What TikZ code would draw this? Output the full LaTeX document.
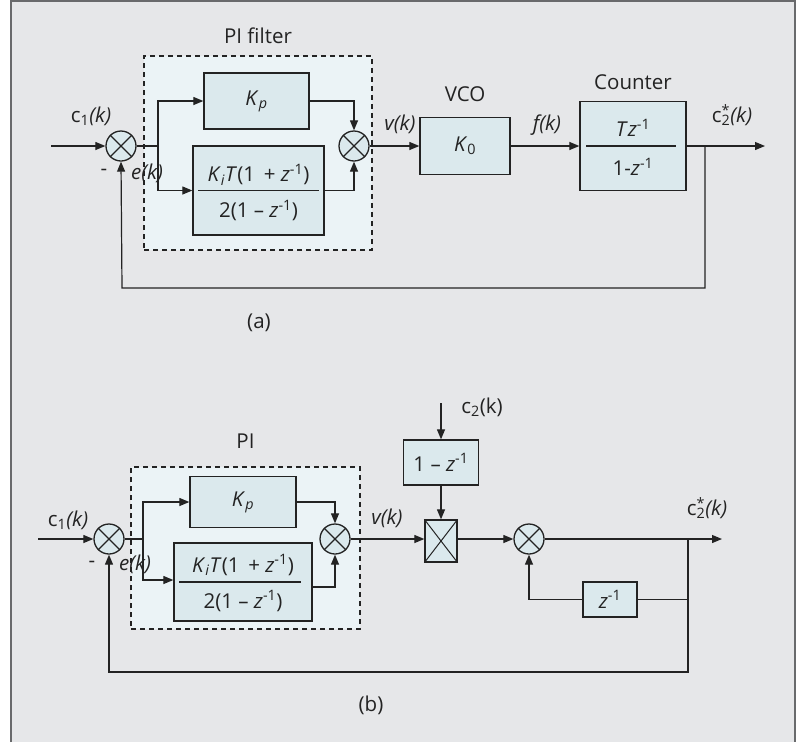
\documentclass[tikz,border=0pt]{standalone}
\usepackage{fontspec}
\setmainfont{Open Sans}
\usepackage{tikz}
\usetikzlibrary{positioning,arrows.meta}

\definecolor{bgray}{RGB}{230,231,233}
\definecolor{framec}{RGB}{105,106,108}
\definecolor{linec}{RGB}{35,35,35}
\definecolor{pifill}{RGB}{235,243,246}
\definecolor{blkfill}{RGB}{219,233,237}

\newcommand{\zinv}{\textit{z}\textsuperscript{-1}}
\newcommand{\cstar}{c\rlap{\textsuperscript{*}}\textsubscript{2}}

\tikzset{
  blk/.style={draw, fill=blkfill, line width=1.3pt, inner sep=0pt},
  sum/.style={draw, fill=blkfill, circle, minimum size=30pt, inner sep=0pt, line width=1.3pt},
  pibox/.style={draw, dash pattern=on 5pt off 4pt, fill=pifill, line width=1.1pt, inner sep=0pt}
}

\begin{document}
\begin{tikzpicture}[x=1pt,y=-1pt,color=linec,line width=1.2pt,
  font=\fontsize{20.5}{24}\selectfont,
  >={Triangle[length=10pt,width=8pt]}]
\useasboundingbox (0,0) rectangle (808,742);
\fill[bgray] (11,1) rectangle (795,742);
\draw[framec, line width=1.5pt] (11,742) -- (11,1) -- (795,1) -- (795,742);

% (a) PI filter, VCO and counter
\node[pibox, minimum width=228pt, minimum height=194pt] (piA) at (258,153) {};
\node[above=8pt of piA] (piAlbl) {PI filter};
\node[sum] (sumA1) at (121,146) {};
\node[sum] (sumA2) at (354,146) {};
\node[blk, minimum width=105pt, minimum height=56pt] (kpA) at (256.5,101) {\textit{K}\textsubscript{\textit{p}}};
\node[blk, minimum width=131pt, minimum height=89pt] (kiA) at (258.5,190.5) {};
\node (kiAtop) at ([yshift=16pt]kiA.center) {\textit{K}\textsubscript{\textit{i}}\textit{T}(1 \,+ \zinv)};
\node (kiAbot) at ([yshift=-20pt]kiA.center) {2(1 – \zinv)};
\draw ([xshift=6pt]kiA.west) -- ([xshift=-6pt]kiA.east);
\node[blk, minimum width=90pt, minimum height=57pt] (vcoA) at (465,146) {\textit{K}\textsubscript{0}};
\node[above=11pt of vcoA] (vcoAlbl) {VCO};
\node[blk, minimum width=106pt, minimum height=89pt] (cntA) at (633,146) {};
\node[above=7pt of cntA] (cntAlbl) {Counter};
\node (cntAtop) at ([yshift=18pt]cntA.center) {\textit{T}\zinv};
\node (cntAbot) at ([yshift=-21pt]cntA.center) {1-\zinv};
\draw ([xshift=7pt]cntA.west) -- ([xshift=-11pt]cntA.east);

\coordinate (inA) at (51,146);
\coordinate (brA) at (158,146);
\coordinate (fbA) at (705,146);
\coordinate (outA) at (765,146);
\coordinate (botA) at (122,288);
\draw[->] (inA) -- (sumA1.west);
\draw (sumA1.east) -- (brA);
\draw[->] (brA) |- (kpA.west);
\draw[->] (brA) |- (kiA.west);
\draw[->] (kpA.east) -| (sumA2.north);
\draw[->] (kiA.east) -| (sumA2.south);
\draw[->] (sumA2.east) -- (vcoA.west);
\draw[->] (vcoA.east) -- (cntA.west);
\draw[->] (cntA.east) -- (outA);
\draw[->] (fbA) |- (botA) -- (sumA1.south);

\node (c1A) at (91,116) {c\textsubscript{1}\textit{(k)}};
\node (mnA) at (104,172) {-};
\node (eA) at (147,173) {\textit{e(k)}};
\node (vA) at (400,124) {\textit{v(k)}};
\node (fA) at (547,125) {\textit{f(k)}};
\node (c2A) at (732,115) {\cstar\textit{(k)}};
\node (capA) at (259,323) {(a)};

% (b) PI and difference counter
\node[pibox, minimum width=229pt, minimum height=162pt] (piB) at (245.5,548) {};
\node[above=14pt of piB] (piBlbl) {PI};
\node[sum] (sumB1) at (109,539) {};
\node[sum] (sumB2) at (335,539) {};
\node[blk, minimum width=106pt, minimum height=51pt] (kpB) at (243,502) {\textit{K}\textsubscript{\textit{p}}};
\node[blk, minimum width=138pt, minimum height=78pt] (kiB) at (243,582) {};
\node (kiBtop) at ([yshift=17pt]kiB.center) {\textit{K}\textsubscript{\textit{i}}\textit{T}(1 \,+ \zinv)};
\node (kiBbot) at ([yshift=-19pt]kiB.center) {2(1 – \zinv)};
\draw ([xshift=6pt]kiB.west) -- ([xshift=-12pt]kiB.east);
\node[blk, minimum width=32pt, minimum height=42pt] (mulB) at (441,541) {};
\node[blk, minimum width=75pt, minimum height=45pt] (difB) at (441,462.5) {1 – \zinv};
\node[sum] (sumB3) at (529,539) {};
\node[blk, minimum width=54pt, minimum height=35pt] (dlyB) at (610,599.5) {\zinv};
\foreach \s in {sumA1,sumA2,sumB1,sumB2,sumB3}
  {\draw (\s.north west) -- (\s.south east) (\s.north east) -- (\s.south west);}
\draw[line width=1pt] (mulB.north west) -- (mulB.south east) (mulB.north east) -- (mulB.south west);

\coordinate (inB) at (38,539);
\coordinate (brB) at (143,539);
\coordinate (c2inB) at (441,403);
\coordinate (fbB) at (688,539);
\coordinate (outB) at (722,539);
\coordinate (botB) at (109,672);
\draw[->] (inB) -- (sumB1.west);
\draw (sumB1.east) -- (brB);
\draw[->] (brB) |- (kpB.west);
\draw[->] (brB) |- ([yshift=2pt]kiB.west);
\draw[->] (kpB.east) -| (sumB2.north);
\draw[->] ([yshift=-5pt]kiB.east) -| (sumB2.south);
\draw[->] (sumB2.east) -- (sumB2.east -| mulB.west);
\draw[->] (c2inB) -- (difB.north);
\draw[->] (difB.south) -- (mulB.north);
\draw[->] (sumB3.west -| mulB.east) -- (sumB3.west);
\draw[->] (sumB3.east) -- (outB);
\draw (fbB |- dlyB.east) -- (dlyB.east);
\draw[->] (dlyB.west) -| (sumB3.south);
\draw[->] (fbB) |- (botB) -- (sumB1.south);

\node (c1B) at (68,520) {c\textsubscript{1}\textit{(k)}};
\node (mnB) at (92,564) {-};
\node (eB) at (135,564) {\textit{e(k)}};
\node (vB) at (387,518) {\textit{v(k)}};
\node (c2B) at (482,407) {c\textsubscript{2}(k)};
\node (c2sB) at (707,508) {\cstar\textit{(k)}};
\node (capB) at (371,705) {(b)};
\end{tikzpicture}
\end{document}
